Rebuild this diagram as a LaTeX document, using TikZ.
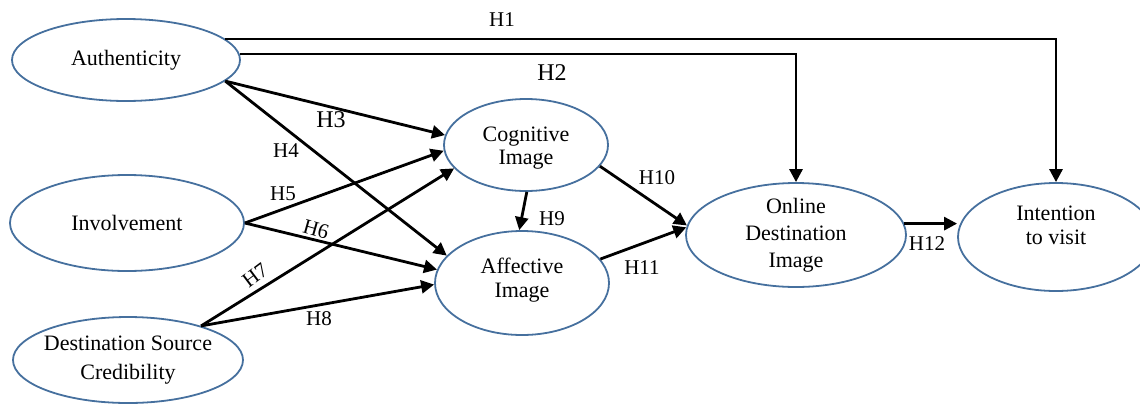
\documentclass[tikz,border=0pt]{standalone}
\usepackage{fontspec}
\setmainfont{Liberation Serif}
\usetikzlibrary{arrows.meta,shapes.geometric}
\definecolor{ellblue}{RGB}{70,112,158}
\begin{document}
\begin{tikzpicture}[x=1pt,y=-1pt,
  var/.style={ellipse, draw=ellblue, line width=1.8pt, inner sep=0pt},
  vt/.style={align=center, inner sep=0pt, font=\fontsize{22}{#1}\selectfont},
  vt/.default=25,
  arr/.style={line width=2.8pt, -{Triangle[length=13pt,width=13pt]}},
  hl/.style={font=\fontsize{21}{24}\selectfont, inner sep=0pt},
  hlb/.style={font=\fontsize{24}{26}\selectfont, inner sep=0pt}]
\useasboundingbox (0,0) rectangle (1140,405);

\node[var, minimum width=228pt, minimum height=82pt, label={[vt]center:Authenticity}] (auth) at (126,60) {};
\node[var, minimum width=234pt, minimum height=96pt, label={[vt]center:Involvement}] (inv) at (127,223) {};
\node[var, minimum width=230pt, minimum height=86pt, label={[vt=29]center:Destination Source\\Credibility}] (dsc) at (128,360) {};
\node[var, minimum width=164pt, minimum height=92pt, label={[vt=23,yshift=-3pt]center:Cognitive\\Image}] (cog) at (526,145) {};
\node[var, minimum width=174pt, minimum height=104pt, label={[vt=24,yshift=3pt]center:Affective\\Image}] (aff) at (522,283) {};
\node[var, minimum width=220pt, minimum height=104pt, label={[vt=27]center:Online\\Destination\\Image}] (onl) at (796,235) {};
\node[var, minimum width=196pt, minimum height=108pt, label={[vt=24,yshift=12pt]center:Intention\\to visit}] (itv) at (1056,237) {};

\draw[arr] (auth.12) -| (itv.north);
\draw[arr] (auth.3) -| (onl.north);
\draw[arr] (auth.-12) -- (cog.173);
\draw[arr] (auth.-12) -- (aff.160);
\draw[arr] (inv.east) -- (cog.184);
\draw[arr] (inv.east) -- (aff.171);
\draw[arr] (dsc.25) -- (cog.198);
\draw[arr] (dsc.25) -- (aff.181);
\draw[arr] (cog.-89) -- (aff.93);
\draw[arr] (cog.-16) -- (onl.175);
\draw[arr] (aff.17) -- (onl.176);
\draw[arr] (onl.6) -- (onl.6 -| itv.west);

\node[hl] (h1) at (502,20) {H1};
\node[hlb] (h2) at (552,73) {H2};
\node[hlb] (h3) at (331,120) {H3};
\node[hl] (h4) at (286,151) {H4};
\node[hl] (h5) at (283,194) {H5};
\node[hl, rotate=-16] (h6) at (316,229) {H6};
\node[hl, rotate=37] (h7) at (255,275) {H7};
\node[hl] (h8) at (319,319) {H8};
\node[hl] (h9) at (552,219) {H9};
\node[hl] (h10) at (657,178) {H10};
\node[hl] (h11) at (642,268) {H11};
\node[hl] (h12) at (927,244) {H12};
\end{tikzpicture}
\end{document}
